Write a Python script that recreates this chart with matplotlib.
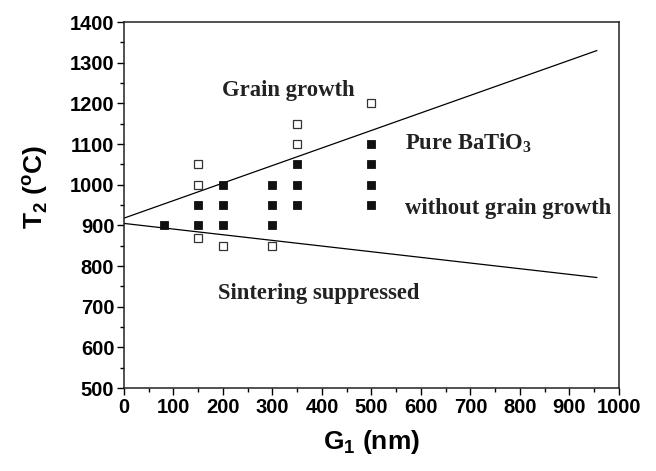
import matplotlib
matplotlib.use("Agg")
import matplotlib.pyplot as plt
import numpy as np

# Data
filled_x = [80, 150, 150, 200, 200, 200, 300, 300, 300, 350, 350, 350, 500, 500, 500, 500]
filled_y = [900, 900, 950, 900, 950, 1000, 900, 950, 1000, 950, 1000, 1050, 950, 1000, 1050, 1100]
open_x = [150, 150, 150, 200, 300, 350, 350, 500]
open_y = [870, 1000, 1050, 850, 850, 1100, 1150, 1200]
upper_line_x = [0, 955]
upper_line_y = [918, 1330]
lower_line_x = [0, 955]
lower_line_y = [905, 772]

plt.rcParams['mathtext.fontset'] = 'custom'
plt.rcParams['mathtext.rm'] = 'Liberation Sans:bold'
plt.rcParams['mathtext.bf'] = 'Liberation Sans:bold'
plt.rcParams['mathtext.sf'] = 'Liberation Serif:bold'

fig = plt.figure(figsize=(6.56, 4.71), dpi=100)
ax = fig.add_axes([0.189, 0.176, 0.7546, 0.777])

ax.plot(upper_line_x, upper_line_y, color='black', lw=0.9)
ax.plot(lower_line_x, lower_line_y, color='black', lw=0.9)
ax.plot(filled_x, filled_y, ls='none', marker='s', ms=5.4, mfc='#111111', mec='#111111', mew=0.6)
ax.plot(open_x, open_y, ls='none', marker='s', ms=5.2, mfc='white', mec='#333333', mew=0.9)

ax.set_xlim(0, 1000)
ax.set_ylim(500, 1400)
ax.set_xticks(np.arange(0, 1001, 100))
ax.set_xticks(np.arange(0, 1001, 50), minor=True)
ax.set_yticks(np.arange(500, 1401, 100))
ax.set_yticks(np.arange(500, 1401, 50), minor=True)
ax.tick_params(which='major', direction='out', length=5, width=1, labelsize=14.5, pad=2)
ax.tick_params(which='minor', direction='out', length=3, width=1)
for lab in ax.get_xticklabels() + ax.get_yticklabels():
    lab.set_fontfamily('Liberation Sans')
    lab.set_fontweight('bold')
for s in ax.spines.values():
    s.set_linewidth(1.1)
    s.set_color('#222222')

ax.set_xlabel(r'G$_\mathregular{1}$ (nm)', fontsize=19, fontfamily='Liberation Sans', fontweight='bold', labelpad=8)
ax.set_ylabel(r'T$_\mathregular{2}$ ($\mathregular{^o}$C)', fontsize=19, fontfamily='Liberation Sans', fontweight='bold')
ax.yaxis.set_label_coords(-0.15, 0.55)

tf = dict(fontfamily='Liberation Serif', fontweight='bold', fontsize=16.3, color='#222222')
ax.text(331, 1232, 'Grain growth', ha='center', va='center', **tf)
ax.text(568, 1102, r'Pure BaTiO$_\mathsf{3}$', ha='left', va='center', **tf)
ax.text(568, 942, 'without grain growth', ha='left', va='center', **tf)
ax.text(190, 733, 'Sintering suppressed', ha='left', va='center', **tf)

fig.savefig('out.png', dpi=100)
